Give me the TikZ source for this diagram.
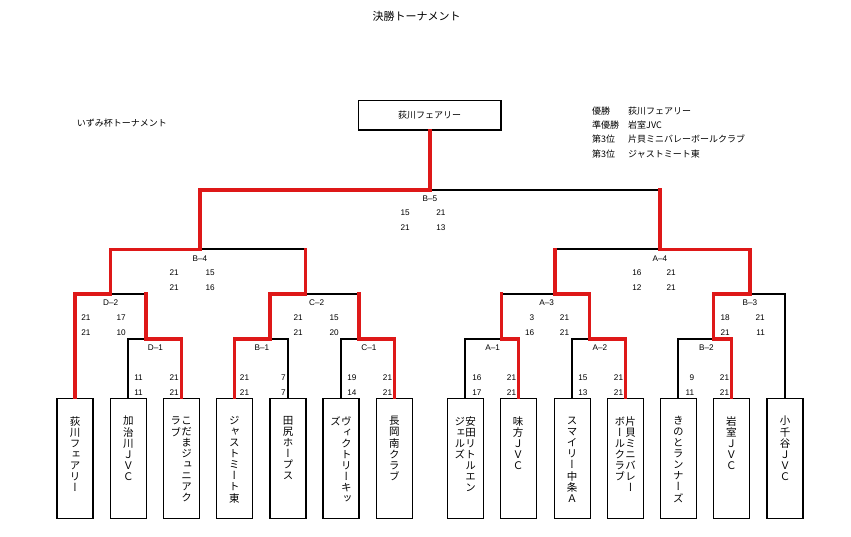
\documentclass[tikz,border=0pt]{standalone}
\usepackage{fontspec}
\setmainfont{Liberation Sans}
\newfontfamily\jpfont{Noto Sans CJK JP}
\newfontfamily\jpvfont[RawFeature=+vert]{Noto Sans CJK JP}
\definecolor{winred}{RGB}{222,24,24}

% vertical (tategaki) columns for the team boxes
\def\tatelp#1{\ifx\relax#1\else\hbox to 10.7pt{\hss\vrule height 8.6pt depth 2.4pt width 0pt#1\hss}\expandafter\tatelp\fi}
\newcommand\tate[1]{\vtop{\offinterlineskip\tatelp#1\relax}}
\newcommand\teamtext[1]{\vbox to 84pt{\hbox{#1}\vss}}

% match label and set scores
\newcommand\gameinfo[8]{%
  \node[mlabel] (#1) at (#3,#4) {#2};
  \foreach \sl/\sr [count=\i] in {#8}{%
    \node[mscore] (#1l\i) at (#5,{#7+14.6*(\i-1)}) {\sl};
    \node[mscore] (#1r\i) at (#6,{#7+14.6*(\i-1)}) {\sr};}}

\begin{document}
\begin{tikzpicture}[
    x=1pt, y=-1pt,
    font=\fontsize{8.2pt}{10pt}\selectfont,
    team/.style={draw, line width=1.2pt, minimum width=36pt, minimum height=120pt, inner sep=0pt, font=\jpvfont\fontsize{10.5pt}{11pt}\selectfont},
    champbox/.style={draw, line width=1.2pt, minimum width=142.7pt, minimum height=29.3pt, inner sep=0pt, font=\jpfont\fontsize{9pt}{11pt}\selectfont},
    jptext/.style={inner sep=0pt, font=\jpfont\fontsize{9pt}{11pt}\selectfont},
    mlabel/.style={inner sep=0pt},
    mscore/.style={inner sep=0pt, anchor=east},
    win/.style={draw=winred, line width=3.4pt, line cap=rect},
    lose/.style={draw=black, line width=1.8pt, line cap=rect}
]
\useasboundingbox (0,0) rectangle (851,536);

% headings
\node[jptext, font=\jpfont\fontsize{11pt}{13pt}\selectfont] (title) at (416.7,16.2) {決勝トーナメント};
\node[jptext, anchor=west] (cup) at (76.7,123.3) {いずみ杯トーナメント};

% final standings
\node[jptext, anchor=west] (r1a) at (592,110.8) {優勝};
\node[jptext, anchor=west] (r1b) at (628,110.8) {荻川フェアリー};
\node[jptext, anchor=west] (r2a) at (592,124.6) {準優勝};
\node[jptext, anchor=west] (r2b) at (628,124.6) {岩室JVC};
\node[jptext, anchor=west] (r3a) at (592,139.2) {第3位};
\node[jptext, anchor=west] (r3b) at (628,139.2) {片貝ミニバレーボールクラブ};
\node[jptext, anchor=west] (r4a) at (592,154.2) {第3位};
\node[jptext, anchor=west] (r4b) at (628,154.2) {ジャストミート東};

\node[champbox] (champ) at (429.7,115.3) {荻川フェアリー};

% teams
\node[team] (t1) at (75,458.3) {\teamtext{\tate{荻川フェアリー}}};
\node[team] (t2) at (128.3,458.3) {\teamtext{\tate{加治川ＪＶＣ}}};
\node[team] (t3) at (181.3,458.3) {\teamtext{\tate{ラブ}\tate{こだまジュニアク}}};
\node[team] (t4) at (234.3,458.3) {\teamtext{\tate{ジャストミート東}}};
\node[team] (t5) at (288,458.3) {\teamtext{\tate{田尻ホープス}}};
\node[team] (t6) at (341,458.3) {\teamtext{\tate{ズ}\tate{ヴィクトリーキッ}}};
\node[team] (t7) at (394.3,458.3) {\teamtext{\tate{長岡南クラブ}}};
\node[team] (t8) at (465.3,458.3) {\teamtext{\tate{ジェルズ}\tate{安田リトルエン}}};
\node[team] (t9) at (518.2,458.3) {\teamtext{\tate{味方ＪＶＣ}}};
\node[team] (t10) at (572.2,458.3) {\teamtext{\tate{スマイリー中条Ａ}}};
\node[team] (t11) at (625.3,458.3) {\teamtext{\tate{ボールクラブ}\tate{片貝ミニバレー}}};
\node[team] (t12) at (678.3,458.3) {\teamtext{\tate{きのとランナーズ}}};
\node[team] (t13) at (731.3,458.3) {\teamtext{\tate{岩室ＪＶＣ}}};
\node[team] (t14) at (785,458.3) {\teamtext{\tate{小千谷ＪＶＣ}}};

% match junctions
\coordinate (d1) at (146,339);
\coordinate (b1) at (270,339);
\coordinate (c1) at (359,339);
\coordinate (a1) at (501.7,339);
\coordinate (a2) at (589.3,339);
\coordinate (b2) at (713.3,339);
\coordinate (d2) at (110.3,294);
\coordinate (c2) at (305.7,294);
\coordinate (a3) at (555,294);
\coordinate (b3) at (750,294);
\coordinate (b4) at (200,249.3);
\coordinate (a4) at (660,249.3);
\coordinate (b5) at (430,190);

% losing sides
\draw[lose] (t2.north) |- (d1);
\draw[lose] (t5.north) |- (b1);
\draw[lose] (t6.north) |- (c1);
\draw[lose] (t8.north) |- (a1);
\draw[lose] (t10.north) |- (a2);
\draw[lose] (t12.north) |- (b2);
\draw[lose] (t14.north) |- (b3);
\draw[lose] (d1 |- d2) -- (d2);
\draw[lose] (c1 |- c2) -- (c2);
\draw[lose] (a1 |- a3) -- (a3);
\draw[lose] (c2 |- b4) -- (b4);
\draw[lose] (a3 |- a4) -- (a4);
\draw[lose] (a4 |- b5) -- (b5);

% winning paths
\draw[win] (t1.north) |- (d2);
\draw[win] (t3.north) |- (d1);
\draw[win] (t4.north) |- (b1);
\draw[win] (t7.north) |- (c1);
\draw[win] (t9.north) |- (a1);
\draw[win] (t11.north) |- (a2);
\draw[win] (t13.north) |- (b2);
\draw[win] (d1) -- (d1 |- d2);
\draw[win] (b1) |- (c2);
\draw[win] (c1) -- (c1 |- c2);
\draw[win] (a1) -- (a1 |- a3);
\draw[win] (a2) |- (a3);
\draw[win] (b2) |- (b3);
\draw[win] (d2) |- (b4);
\draw[win] (c2) -- (c2 |- b4);
\draw[win] (a3) -- (a3 |- a4);
\draw[win] (b3) |- (a4);
\draw[win] (b4) |- (b5);
\draw[win] (a4) -- (a4 |- b5);
\draw[win] (b5) -- (b5 |- champ.south);

% scores
\gameinfo{gB5}{B–5}{430}{198.8}{410}{445.7}{212.8}{15/21,21/13}
\gameinfo{gB4}{B–4}{200}{258.8}{179}{215}{272.8}{21/15,21/16}
\gameinfo{gA4}{A–4}{660}{258.8}{641.7}{676}{272.8}{16/21,12/21}
\gameinfo{gD2}{D–2}{110.7}{302.2}{90.7}{126}{317.8}{21/17,21/10}
\gameinfo{gC2}{C–2}{316.7}{302.2}{303}{339}{317.8}{21/15,21/20}
\gameinfo{gA3}{A–3}{546.7}{302.2}{534.5}{569.3}{317.8}{3/21,16/21}
\gameinfo{gB3}{B–3}{750}{302.2}{730}{765}{317.8}{18/21,21/11}
\gameinfo{gD1}{D–1}{155.5}{347.8}{143}{179}{377.8}{11/21,11/21}
\gameinfo{gB1}{B–1}{262}{347.8}{249.3}{286}{377.8}{21/7,21/7}
\gameinfo{gC1}{C–1}{369}{347.8}{356.7}{392.3}{377.8}{19/21,14/21}
\gameinfo{gA1}{A–1}{492.7}{347.8}{481.7}{516.3}{377.8}{16/21,17/21}
\gameinfo{gA2}{A–2}{600}{347.8}{587.7}{623.3}{377.8}{15/21,13/21}
\gameinfo{gB2}{B–2}{706.5}{347.8}{694.3}{729.3}{377.8}{9/21,11/21}

\end{tikzpicture}
\end{document}
